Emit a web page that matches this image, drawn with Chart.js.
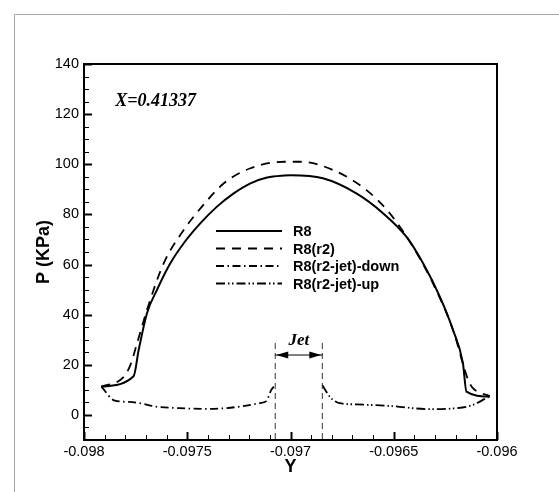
<!DOCTYPE html>
<html>
<head>
<meta charset="utf-8">
<script src="https://cdn.jsdelivr.net/npm/chart.js@4.4.0/dist/chart.umd.min.js"></script>
<style>
body { margin: 0; background: #fff; }
#wrap { width: 559px; height: 492px; }
</style>
</head>
<body>
<div id="wrap"><canvas id="grafico" width="559" height="492"></canvas></div>
<script>
// valores: Y (m) e pressao P (KPa)
var r8Y = [-0.097916, -0.09776, -0.097735, -0.097695, -0.097646, -0.097582, -0.097517, -0.097436, -0.097356, -0.097275, -0.097194, -0.097113, -0.09703, -0.097, -0.096843, -0.096681, -0.096552, -0.096439, -0.096358, -0.096277, -0.096213, -0.096165, -0.096148, -0.096035];
var r8P = [11.3, 15.4, 26, 40.6, 50, 60.5, 68.5, 76.5, 83.1, 88.4, 92.4, 94.7, 95.5, 95.6, 94.4, 88.4, 80.5, 71.1, 60.5, 47.2, 33.9, 20.6, 9.3, 7.3];

var r2Y = [-0.097916, -0.09781, -0.097775, -0.097743, -0.097695, -0.097614, -0.097517, -0.097436, -0.097323, -0.097194, -0.09703, -0.096952, -0.096794, -0.096632, -0.09652, -0.096407, -0.09631, -0.096213, -0.09614, -0.09612, -0.096035];
var r2P = [11.3, 15, 20, 28.6, 41.9, 60.5, 73.8, 82.4, 92.4, 98.4, 101, 101, 97.7, 89.7, 80.5, 67.1, 52.5, 33.9, 14, 11, 7.5];

var downY = [-0.097916, -0.097851, -0.09778, -0.09773, -0.09765, -0.097537, -0.097407, -0.097246, -0.097149, -0.097117, -0.097093, -0.097081];
var downP = [11.3, 5.7, 5.2, 4.7, 3.3, 2.7, 2.4, 3.3, 4.7, 5.5, 10, 11.3];

var upY = [-0.096846, -0.09681, -0.096794, -0.096762, -0.09668, -0.09652, -0.096326, -0.096197, -0.096116, -0.096035];
var upP = [11.8, 7.3, 6, 4.7, 4.2, 3.6, 2.3, 2.7, 4, 7.6];

var xTicks = [-0.098, -0.0975, -0.097, -0.0965, -0.096];
var yTicks = [0, 20, 40, 60, 80, 100, 120, 140];
var jetY = [-0.097074, -0.096846];
var nomes = ['R8', 'R8(r2)', 'R8(r2-jet)-down', 'R8(r2-jet)-up'];

function pares(xs, ys) {
    return xs.map(function (x, i) { return { x: x, y: ys[i] }; });
}

var fonte = "'Liberation Sans', Arial, sans-serif";

var extras = {
    id: 'extras',
    afterDraw: function (chart) {
        var ctx = chart.ctx, a = chart.chartArea;
        var sx = chart.scales.x, sy = chart.scales.y;
        ctx.save();

        // moldura externa cinza
        ctx.strokeStyle = '#a8a8a8';
        ctx.lineWidth = 1;
        ctx.beginPath();
        ctx.moveTo(14.5, 492); ctx.lineTo(14.5, 14.5); ctx.lineTo(559, 14.5);
        ctx.stroke();

        // ticks para dentro
        ctx.strokeStyle = '#000';
        for (var i = 0; i <= 20; i++) {
            var px = Math.round(sx.getPixelForValue(-0.098 + i * 0.0001)) + 0.5;
            var maior = i % 5 === 0;
            ctx.lineWidth = maior ? 2 : 1;
            ctx.beginPath();
            ctx.moveTo(px, a.bottom); ctx.lineTo(px, a.bottom - (maior ? 8 : 5));
            ctx.stroke();
        }
        for (var j = 0; j <= 30; j++) {
            var v = -10 + j * 5;
            var py = Math.round(sy.getPixelForValue(v)) + 0.5;
            var maiorY = v % 20 === 0;
            ctx.lineWidth = maiorY ? 2 : 1;
            ctx.beginPath();
            ctx.moveTo(a.left, py); ctx.lineTo(a.left + (maiorY ? 8 : 5), py);
            ctx.stroke();
        }

        // caixa do grafico
        ctx.lineWidth = 2;
        ctx.strokeRect(a.left, a.top, a.right - a.left, a.bottom - a.top);

        // anotacao do jato
        var j1 = sx.getPixelForValue(jetY[0]), j2 = sx.getPixelForValue(jetY[1]);
        var topo = sy.getPixelForValue(28.7), ya = sy.getPixelForValue(23.9);
        ctx.lineWidth = 1;
        ctx.strokeStyle = '#333';
        ctx.setLineDash([6, 4]);
        ctx.beginPath();
        ctx.moveTo(j1, topo); ctx.lineTo(j1, a.bottom);
        ctx.moveTo(j2, topo); ctx.lineTo(j2, a.bottom);
        ctx.stroke();
        ctx.setLineDash([]);
        ctx.strokeStyle = '#000';
        ctx.beginPath();
        ctx.moveTo(j1, ya); ctx.lineTo(j2, ya);
        ctx.stroke();
        ctx.fillStyle = '#000';
        ctx.beginPath();
        ctx.moveTo(j1 + 1, ya); ctx.lineTo(j1 + 13, ya - 3.5); ctx.lineTo(j1 + 13, ya + 3.5); ctx.closePath();
        ctx.moveTo(j2 - 1, ya); ctx.lineTo(j2 - 13, ya - 3.5); ctx.lineTo(j2 - 13, ya + 3.5); ctx.closePath();
        ctx.fill();
        ctx.font = "bold italic 17px 'Liberation Serif', 'Times New Roman', serif";
        ctx.textAlign = 'center';
        ctx.textBaseline = 'middle';
        ctx.fillText('Jet', (j1 + j2) / 2, sy.getPixelForValue(29.5));

        // rotulo da secao
        ctx.font = "bold italic 18px 'Liberation Serif', 'Times New Roman', serif";
        ctx.fillText('X=0.41337', sx.getPixelForValue(-0.097653), sy.getPixelForValue(125.2));

        // legenda
        ctx.textAlign = 'left';
        ctx.font = 'bold 14.5px ' + fonte;
        chart.data.datasets.forEach(function (ds, k) {
            var ly = 231 + k * 17.5;
            ctx.lineWidth = ds.borderWidth;
            ctx.setLineDash(ds.borderDash || []);
            ctx.beginPath();
            ctx.moveTo(216, ly); ctx.lineTo(282, ly);
            ctx.stroke();
            ctx.setLineDash([]);
            ctx.fillText(ds.label, 293, ly + 1);
        });
        ctx.restore();
    }
};

function serie(nome, xs, ys, traco, larg) {
    return {
        label: nome,
        data: pares(xs, ys),
        borderColor: '#000',
        borderWidth: larg,
        borderDash: traco,
        pointRadius: 0,
        fill: false,
        cubicInterpolationMode: 'monotone'
    };
}

var ctx = document.getElementById('grafico').getContext('2d');
var grafico = new Chart(ctx, {
    type: 'line',
    data: {
        datasets: [
            serie(nomes[0], r8Y, r8P, [], 2),
            serie(nomes[1], r2Y, r2P, [9, 7], 1.8),
            serie(nomes[2], downY, downP, [8, 3.5, 1.5, 3.5], 1.8),
            serie(nomes[3], upY, upP, [9, 3, 1.5, 2.5, 1.5, 3], 1.8)
        ]
    },
    options: {
        responsive: false,
        animation: false,
        layout: { padding: { left: 0, top: 64, right: 62, bottom: 0 } },
        plugins: { legend: { display: false }, tooltip: { enabled: false } },
        scales: {
            x: {
                type: 'linear',
                min: -0.098,
                max: -0.096,
                afterBuildTicks: function (s) { s.ticks = xTicks.map(function (v) { return { value: v }; }); },
                afterFit: function (s) { s.height = 52; },
                grid: { display: false, drawTicks: false },
                border: { display: false },
                ticks: {
                    color: '#000', font: { family: fonte, size: 14.5 }, padding: 3,
                    maxRotation: 0, autoSkip: false,
                    callback: function (v) { return String(v); }
                },
                title: {
                    display: true, text: 'Y', color: '#000',
                    font: { family: fonte, size: 18, weight: 'bold' },
                    padding: { top: 0, bottom: 14 }
                }
            },
            y: {
                min: -10,
                max: 140,
                afterBuildTicks: function (s) { s.ticks = yTicks.map(function (v) { return { value: v }; }); },
                afterFit: function (s) { s.width = 84; },
                grid: { display: false, drawTicks: false },
                border: { display: false },
                ticks: { color: '#000', font: { family: fonte, size: 14.5 }, padding: 5 },
                title: {
                    display: true, text: 'P (KPa)', color: '#000',
                    font: { family: fonte, size: 18, weight: 'bold' },
                    padding: { top: 33, bottom: 0 }
                }
            }
        }
    },
    plugins: [extras]
});
</script>
</body>
</html>
